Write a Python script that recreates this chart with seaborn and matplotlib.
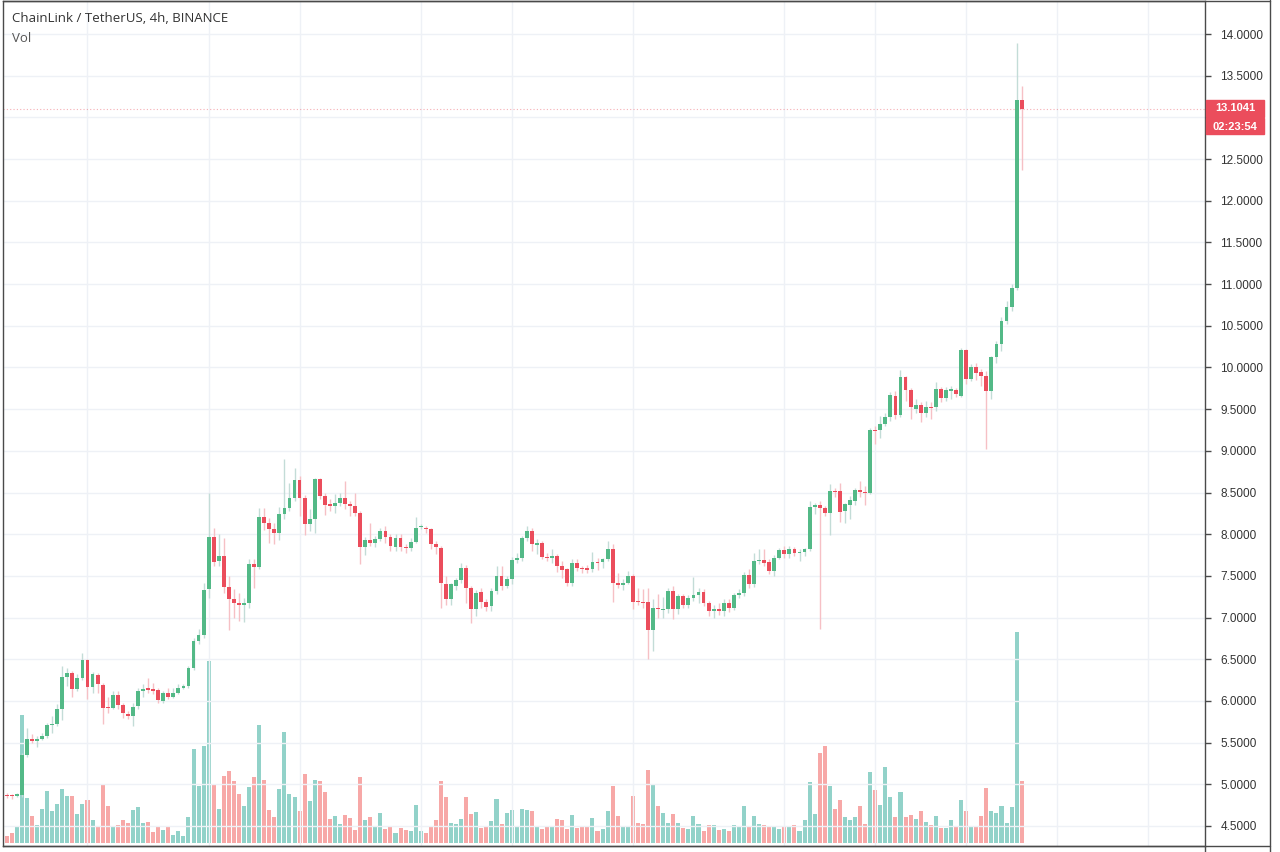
import matplotlib
matplotlib.use("Agg")
import matplotlib.pyplot as plt
from matplotlib.lines import Line2D
from matplotlib.patches import Rectangle
import numpy as np
import pandas as pd
import seaborn as sns

sns.set_style("white")
plt.rcParams['font.family'] = ['Liberation Sans', 'DejaVu Sans']

# LINK/USDT 4h candles
opens = [
    4.87, 4.87, 4.86, 4.87, 5.35, 5.54, 5.52, 5.54, 5.58, 5.71,
    5.72, 5.90, 6.29, 6.33, 6.14, 6.27, 6.49, 6.17, 6.31, 6.19,
    5.92, 5.92, 6.07, 5.95, 5.84, 5.82, 5.94, 6.12, 6.15, 6.14,
    6.13, 6.00, 6.10, 6.05, 6.10, 6.16, 6.18, 6.39, 6.72, 6.79,
    7.34, 7.97, 7.68, 7.74, 7.37, 7.22, 7.17, 7.15, 7.17, 7.64,
    7.61, 8.21, 8.13, 8.06, 8.01, 8.24, 8.32, 8.44, 8.65, 8.44,
    8.12, 8.18, 8.66, 8.46, 8.36, 8.34, 8.37, 8.44, 8.36, 8.34,
    8.26, 7.85, 7.93, 7.89, 7.94, 8.04, 7.97, 7.85, 7.96, 7.85,
    7.83, 7.91, 8.09, 8.08, 8.06, 7.88, 7.84, 7.40, 7.22, 7.38,
    7.45, 7.60, 7.36, 7.10, 7.31, 7.19, 7.14, 7.32, 7.50, 7.38,
    7.46, 7.69, 7.72, 7.95, 8.04, 7.87, 7.90, 7.73, 7.72, 7.74,
    7.62, 7.58, 7.42, 7.66, 7.60, 7.59, 7.58, 7.67, 7.67, 7.70,
    7.82, 7.41, 7.39, 7.42, 7.50, 7.20, 7.19, 7.19, 6.85, 7.12,
    7.09, 7.10, 7.32, 7.10, 7.26, 7.15, 7.23, 7.27, 7.31, 7.18,
    7.08, 7.10, 7.08, 7.18, 7.11, 7.27, 7.29, 7.51, 7.40, 7.68,
    7.69, 7.67, 7.56, 7.72, 7.81, 7.76, 7.82, 7.77, 7.79, 7.82,
    8.33, 8.35, 8.32, 8.25, 8.52, 8.52, 8.28, 8.35, 8.40, 8.53,
    8.51, 8.50, 9.25, 9.25, 9.32, 9.40, 9.66, 9.43, 9.88, 9.73,
    9.50, 9.55, 9.45, 9.52, 9.52, 9.74, 9.63, 9.72, 9.73, 9.66,
    10.21, 9.86, 10.01, 9.94, 9.90, 9.72, 10.12, 10.28, 10.56, 10.72,
    10.95, 13.21]
closes = [
    4.86, 4.86, 4.88, 5.35, 5.54, 5.52, 5.54, 5.58, 5.71, 5.72,
    5.90, 6.29, 6.33, 6.14, 6.27, 6.49, 6.17, 6.32, 6.20, 5.91,
    5.91, 6.07, 5.95, 5.86, 5.82, 5.93, 6.12, 6.14, 6.13, 6.12,
    6.01, 6.10, 6.05, 6.10, 6.16, 6.18, 6.39, 6.72, 6.79, 7.33,
    7.97, 7.67, 7.74, 7.37, 7.22, 7.17, 7.15, 7.17, 7.64, 7.61,
    8.21, 8.13, 8.06, 8.01, 8.24, 8.32, 8.44, 8.65, 8.44, 8.12,
    8.18, 8.66, 8.46, 8.35, 8.34, 8.37, 8.44, 8.36, 8.34, 8.26,
    7.85, 7.93, 7.90, 7.94, 8.04, 7.97, 7.86, 7.95, 7.85, 7.83,
    7.91, 8.08, 8.10, 8.06, 7.88, 7.85, 7.41, 7.22, 7.40, 7.45,
    7.60, 7.35, 7.10, 7.30, 7.19, 7.13, 7.32, 7.50, 7.38, 7.46,
    7.69, 7.72, 7.95, 8.04, 7.88, 7.90, 7.73, 7.72, 7.74, 7.62,
    7.57, 7.42, 7.66, 7.60, 7.58, 7.57, 7.67, 7.66, 7.70, 7.82,
    7.41, 7.39, 7.41, 7.50, 7.19, 7.19, 7.17, 6.85, 7.12, 7.10,
    7.10, 7.32, 7.10, 7.26, 7.15, 7.23, 7.27, 7.31, 7.18, 7.08,
    7.10, 7.08, 7.18, 7.11, 7.27, 7.29, 7.51, 7.40, 7.68, 7.69,
    7.66, 7.56, 7.72, 7.81, 7.76, 7.82, 7.78, 7.79, 7.82, 8.33,
    8.35, 8.32, 8.26, 8.52, 8.51, 8.27, 8.36, 8.41, 8.53, 8.51,
    8.50, 9.25, 9.24, 9.32, 9.40, 9.67, 9.43, 9.88, 9.73, 9.52,
    9.55, 9.45, 9.52, 9.51, 9.74, 9.63, 9.73, 9.74, 9.68, 10.21,
    9.86, 10.01, 9.93, 9.90, 9.72, 10.12, 10.28, 10.56, 10.72, 10.95,
    13.21, 13.1041]
highs = [
    4.89, 4.88, 4.89, 5.37, 5.68, 5.60, 5.58, 5.62, 5.74, 5.82,
    5.96, 6.42, 6.40, 6.36, 6.32, 6.57, 6.50, 6.35, 6.34, 6.22,
    6.05, 6.12, 6.12, 5.98, 5.88, 5.98, 6.16, 6.20, 6.27, 6.22,
    6.15, 6.12, 6.16, 6.15, 6.20, 6.20, 6.42, 6.75, 6.86, 7.42,
    8.49, 8.08, 8.00, 7.95, 7.50, 7.34, 7.30, 7.24, 7.70, 7.70,
    8.32, 8.32, 8.20, 8.14, 8.33, 8.90, 8.62, 8.79, 8.70, 8.47,
    8.30, 8.68, 8.68, 8.50, 8.42, 8.48, 8.49, 8.64, 8.40, 8.50,
    8.28, 7.97, 8.14, 7.98, 8.07, 8.10, 8.00, 8.00, 8.00, 7.88,
    7.95, 8.21, 8.12, 8.10, 8.08, 7.92, 7.86, 7.50, 7.42, 7.47,
    7.66, 7.63, 7.38, 7.33, 7.35, 7.22, 7.36, 7.62, 7.62, 7.50,
    7.73, 7.78, 7.98, 8.10, 8.08, 7.94, 7.92, 7.78, 7.82, 7.76,
    7.68, 7.60, 7.70, 7.70, 7.62, 7.63, 7.79, 7.72, 7.72, 7.92,
    7.88, 7.53, 7.46, 7.56, 7.52, 7.35, 7.34, 7.36, 7.22, 7.28,
    7.25, 7.36, 7.38, 7.28, 7.28, 7.27, 7.49, 7.36, 7.34, 7.20,
    7.15, 7.18, 7.22, 7.22, 7.29, 7.34, 7.55, 7.58, 7.77, 7.82,
    7.82, 7.70, 7.75, 7.84, 7.86, 7.86, 7.85, 7.82, 7.84, 8.40,
    8.38, 8.40, 8.34, 8.60, 8.55, 8.62, 8.38, 8.46, 8.55, 8.64,
    8.58, 9.28, 9.30, 9.42, 9.45, 9.70, 9.72, 9.97, 9.90, 9.75,
    9.62, 9.58, 9.60, 9.58, 9.82, 9.76, 9.76, 9.78, 9.75, 10.23,
    10.22, 10.04, 10.05, 9.98, 9.96, 10.14, 10.32, 10.60, 10.80, 11.00,
    13.89, 13.38]
lows = [
    4.83, 4.82, 4.85, 4.85, 5.33, 5.50, 5.45, 5.53, 5.55, 5.62,
    5.70, 5.77, 6.18, 6.05, 6.12, 6.25, 6.02, 6.10, 6.10, 5.72,
    5.85, 5.90, 5.90, 5.80, 5.78, 5.70, 5.90, 6.05, 6.10, 6.08,
    5.97, 5.98, 6.02, 6.03, 6.08, 6.14, 6.16, 6.37, 6.68, 6.75,
    7.23, 7.62, 7.62, 7.30, 6.85, 7.00, 6.96, 6.95, 7.12, 7.35,
    7.58, 8.05, 7.90, 7.88, 7.93, 8.18, 8.28, 8.40, 8.22, 7.99,
    8.04, 8.01, 8.42, 8.23, 8.28, 8.26, 8.34, 8.30, 8.22, 8.22,
    7.64, 7.75, 7.86, 7.85, 7.92, 7.90, 7.80, 7.80, 7.80, 7.78,
    7.80, 7.89, 8.06, 8.02, 7.82, 7.76, 7.11, 7.15, 7.15, 7.33,
    7.42, 7.18, 6.94, 7.02, 7.12, 7.08, 7.08, 7.28, 7.33, 7.35,
    7.40, 7.66, 7.68, 7.92, 7.80, 7.76, 7.70, 7.68, 7.65, 7.55,
    7.48, 7.38, 7.38, 7.56, 7.54, 7.53, 7.55, 7.57, 7.60, 7.68,
    7.19, 7.36, 7.33, 7.40, 7.10, 7.15, 7.12, 6.50, 6.60, 7.00,
    7.00, 7.05, 6.98, 7.04, 7.12, 7.12, 7.20, 7.18, 7.14, 7.02,
    7.00, 7.03, 7.02, 7.07, 7.09, 7.23, 7.26, 7.36, 7.37, 7.64,
    7.62, 7.52, 7.50, 7.70, 7.72, 7.72, 7.74, 7.68, 7.74, 7.80,
    8.24, 6.86, 8.22, 7.99, 8.45, 8.15, 8.13, 8.18, 8.35, 8.45,
    8.35, 8.48, 9.08, 9.15, 9.30, 9.36, 9.38, 9.40, 9.60, 9.38,
    9.45, 9.35, 9.40, 9.38, 9.48, 9.58, 9.60, 9.62, 9.65, 9.64,
    9.80, 9.84, 9.85, 9.78, 9.02, 9.62, 10.05, 10.20, 10.52, 10.68,
    10.93, 12.37]
# volume, relative units
volume = [
    7, 10, 16, 128, 45, 27, 18, 34, 52, 32,
    39, 54, 47, 47, 29, 39, 43, 23, 17, 59,
    37, 17, 18, 23, 20, 33, 36, 20, 21, 11,
    16, 13, 16, 8, 12, 7, 26, 94, 57, 97,
    182, 58, 34, 67, 72, 62, 49, 37, 56, 66,
    118, 63, 33, 26, 54, 111, 49, 46, 32, 69,
    42, 63, 62, 51, 24, 27, 19, 28, 25, 13,
    66, 23, 26, 17, 30, 14, 17, 10, 15, 13,
    12, 38, 12, 10, 17, 23, 62, 46, 20, 19,
    24, 46, 29, 31, 15, 16, 22, 44, 19, 30,
    33, 16, 34, 33, 32, 17, 14, 17, 17, 24,
    23, 14, 28, 15, 17, 16, 25, 12, 14, 32,
    57, 27, 17, 16, 47, 20, 19, 73, 58, 37,
    30, 20, 29, 20, 15, 14, 27, 19, 12, 18,
    18, 13, 14, 12, 18, 17, 37, 17, 27, 19,
    18, 17, 16, 14, 17, 17, 18, 12, 23, 61,
    29, 90, 97, 57, 34, 43, 26, 23, 26, 37,
    19, 71, 53, 38, 76, 46, 26, 51, 26, 28,
    24, 32, 21, 18, 27, 15, 15, 23, 16, 43,
    32, 17, 16, 27, 55, 32, 30, 37, 20, 36,
    211, 62]

price_levels = [4.5, 5.0, 5.5, 6.0, 6.5, 7.0, 7.5, 8.0, 8.5, 9.0, 9.5,
                10.0, 10.5, 11.0, 11.5, 12.0, 12.5, 13.0, 13.5, 14.0]
day_marks = [16, 40, 58, 82, 100, 124, 154, 172, 190, 208, 226]
last_price = 13.1041
countdown = "02:23:54"

df = pd.DataFrame({'open': opens, 'high': highs, 'low': lows,
                   'close': closes, 'volume': volume})
df['idx'] = np.arange(len(df))
df['dir'] = np.where(df['close'] >= df['open'], 'up', 'down')

UP, DOWN = '#53b987', '#eb4d5c'
UP_WICK, DOWN_WICK = '#c3dcd7', '#f6c0c5'
UP_VOL, DOWN_VOL = '#92d2c9', '#f7a8a7'
EDGE = '#4a4a4a'

W, H = 1280, 852
fig = plt.figure(figsize=(12.8, 8.52), dpi=100)
rect = [3 / W, 1 - 846 / H, 1202 / W, 845 / H]
ax = fig.add_axes(rect)
axv = ax.twinx()
ax.set_zorder(axv.get_zorder() + 1)
ax.patch.set_visible(False)

# volume underneath
sns.barplot(data=df, x='idx', y='volume', hue='dir',
            palette={'up': UP_VOL, 'down': DOWN_VOL},
            native_scale=True, dodge=False, width=0.8, saturation=1,
            errorbar=None, legend=False, linewidth=0, ax=axv)
axv.set_ylim(-3, 842)
axv.set_yticks([])
axv.set_ylabel('')
for s in axv.spines.values():
    s.set_visible(False)

# candles
wick_cols = np.where(df['dir'] == 'up', UP_WICK, DOWN_WICK)
body_cols = np.where(df['dir'] == 'up', UP, DOWN)
ax.vlines(df['idx'], df['low'], df['high'], colors=wick_cols, lw=1, zorder=2)
body_lo = np.minimum(df['open'], df['close'])
body_h = np.maximum((df['close'] - df['open']).abs(), 0.012)
ax.bar(df['idx'], body_h, bottom=body_lo, width=0.76, color=body_cols,
       linewidth=0, zorder=3)

ax.axhline(last_price, color=DOWN, lw=0.8, ls=(0, (1, 2)), alpha=0.45, zorder=1)

ax.set_xlim(-0.73, 237.3)
ax.set_ylim(4.26, 14.396)
ax.yaxis.tick_right()
ax.set_yticks(price_levels)
# the 13.0000 label sits under the last-price tag, as on the original
ax.set_yticklabels(['' if abs(v - 13.0) < 1e-9 else f'{v:.4f}'
                    for v in price_levels])
ax.set_xticks(day_marks)
ax.set_xticklabels([])
ax.set_xlabel('')
ax.tick_params(axis='y', direction='out', length=4, width=1, color=EDGE,
               labelsize=8.5, labelcolor='#333333', pad=7)
ax.tick_params(axis='x', direction='out', length=5, width=1, color=EDGE)
ax.grid(True, color='#eef1f6', lw=1)
ax.set_axisbelow(True)
for s in ax.spines.values():
    s.set_color(EDGE)
    s.set_linewidth(1)

# outer frame pieces
fig.add_artist(Line2D([1270 / W, 1270 / W], [0, 1], color=EDGE, lw=1))
fig.add_artist(Line2D([3 / W, 1270 / W], [1 - 1 / H, 1 - 1 / H], color=EDGE, lw=1))
fig.add_artist(Line2D([3 / W, 1270 / W], [1 - 846 / H, 1 - 846 / H], color=EDGE, lw=1))
fig.add_artist(Line2D([1205 / W, 1205 / W], [0, 1 - 846 / H], color=EDGE, lw=1))

# last price / countdown tags
fig.add_artist(Rectangle((1206 / W, 1 - 116.5 / H), 58 / W, 16.5 / H,
                         transform=fig.transFigure, color=DOWN, zorder=10))
fig.add_artist(Rectangle((1206 / W, 1 - 134 / H), 58 / W, 16 / H,
                         transform=fig.transFigure, color=DOWN, zorder=10))
fig.text(1235 / W, 1 - 108 / H, f'{last_price:.4f}', color='white',
         fontsize=8, fontweight='bold', ha='center', va='center', zorder=11)
fig.text(1235 / W, 1 - 126.5 / H, countdown, color='white',
         fontsize=8, fontweight='bold', ha='center', va='center', zorder=11)

fig.text(12 / W, 1 - 18 / H, 'ChainLink / TetherUS, 4h, BINANCE',
         fontsize=9.5, color='#333333', family='Open Sans', va='center')
fig.text(12 / W, 1 - 38 / H, 'Vol', fontsize=9.5, color='#555555',
         family='Open Sans', va='center')

fig.savefig('out.png', dpi=100)
